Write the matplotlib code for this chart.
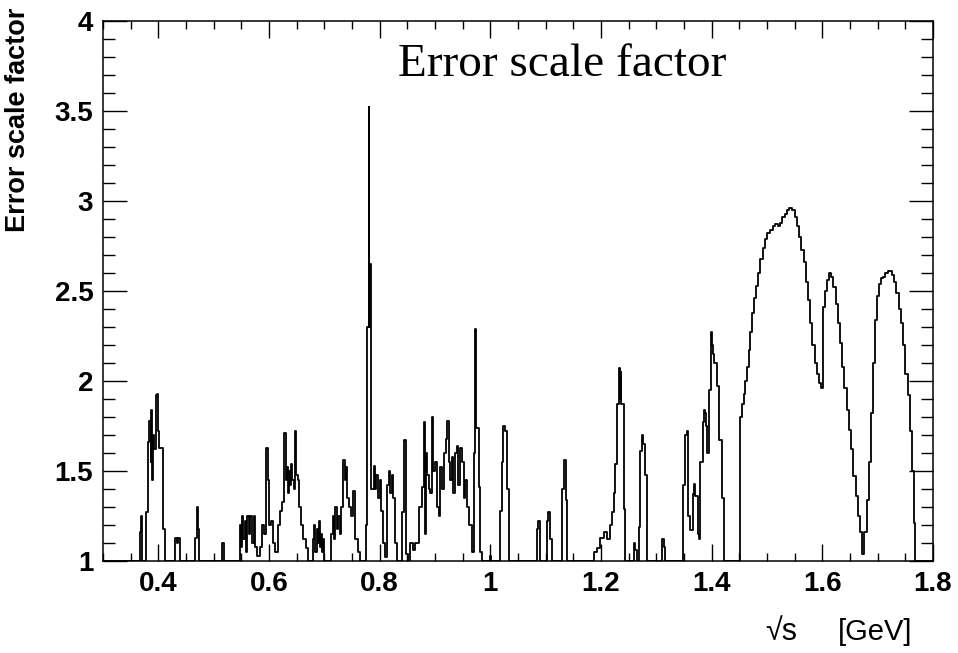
import numpy as np
import matplotlib
matplotlib.use("Agg")
import matplotlib.pyplot as plt
from matplotlib.ticker import MultipleLocator

# Step histogram: each entry is a bin's left edge (GeV) and its content;
# the content holds until the next edge.
lo_x = [0.300, 0.366, 0.369, 0.371, 0.378, 0.381, 0.384, 0.386, 0.387, 0.389,
        0.391, 0.393, 0.395, 0.398, 0.400, 0.402, 0.408, 0.412, 0.430, 0.433,
        0.436, 0.439, 0.466, 0.469, 0.472, 0.474, 0.515, 0.519,
        0.547, 0.549, 0.551, 0.553, 0.556, 0.558, 0.560, 0.563, 0.566, 0.569,
        0.572, 0.575, 0.578, 0.584, 0.588, 0.591, 0.595, 0.598, 0.600, 0.604,
        0.607, 0.611, 0.616, 0.620, 0.624, 0.628, 0.630, 0.632, 0.634, 0.636,
        0.638, 0.640, 0.642, 0.645, 0.647, 0.649, 0.652, 0.655, 0.658, 0.662,
        0.666, 0.670, 0.680, 0.682, 0.684, 0.686, 0.688, 0.690, 0.692, 0.694,
        0.696, 0.698, 0.700]
lo_y = [1.00, 1.16, 1.25, 1.00, 1.27, 1.66, 1.78, 1.55, 1.84, 1.45,
        1.70, 1.62, 1.92, 1.93, 1.72, 1.63, 1.18, 1.00, 1.13, 1.10,
        1.13, 1.00, 1.13, 1.30, 1.18, 1.00, 1.10, 1.00,
        1.20, 1.08, 1.25, 1.12, 1.22, 1.05, 1.25, 1.15, 1.25, 1.10,
        1.25, 1.08, 1.03, 1.08, 1.20, 1.15, 1.63, 1.45, 1.20, 1.22,
        1.10, 1.05, 1.20, 1.28, 1.33, 1.71, 1.45, 1.52, 1.38, 1.50,
        1.42, 1.54, 1.45, 1.40, 1.72, 1.48, 1.45, 1.30, 1.20, 1.12,
        1.07, 1.00, 1.12, 1.20, 1.05, 1.18, 1.10, 1.22, 1.08, 1.15,
        1.05, 1.12, 1.00]

mid_x = [0.712, 0.715, 0.718, 0.720, 0.722, 0.725, 0.728, 0.731, 0.734, 0.737,
         0.739, 0.741, 0.744, 0.748, 0.752, 0.756, 0.760, 0.764,
         0.776, 0.778, 0.780, 0.7815, 0.783, 0.785, 0.789, 0.791, 0.794, 0.797,
         0.800, 0.803, 0.806, 0.809, 0.813, 0.816, 0.819, 0.822, 0.825, 0.828,
         0.832, 0.840, 0.8446, 0.848, 0.852, 0.8555, 0.860, 0.8645, 0.8705,
         0.8765, 0.880, 0.8815, 0.883, 0.8855, 0.8886, 0.8916, 0.894, 0.8965,
         0.900, 0.9036, 0.907, 0.9097, 0.912, 0.9157, 0.919, 0.9217, 0.9247,
         0.9278, 0.9308, 0.933, 0.936, 0.9398, 0.942, 0.9458, 0.9488, 0.952,
         0.9549, 0.958, 0.9609, 0.9669, 0.970, 0.9729, 0.975, 0.979, 0.9819,
         0.985]
mid_y = [1.15, 1.25, 1.12, 1.30, 1.18, 1.25, 1.15, 1.30, 1.56, 1.45,
         1.52, 1.35, 1.30, 1.25, 1.39, 1.12, 1.05, 1.00,
         1.20, 2.30, 3.52, 2.30, 2.65, 1.40, 1.53, 1.40, 1.48, 1.35,
         1.45, 1.28, 1.10, 1.02, 1.42, 1.50, 1.38, 1.48, 1.35, 1.10,
         1.00, 1.27, 1.67, 1.04, 1.00, 1.10, 1.06, 1.10, 1.30,
         1.41, 1.77, 1.15, 1.60, 1.48, 1.40, 1.38, 1.80, 1.50,
         1.55, 1.30, 1.25, 1.52, 1.40, 1.60, 1.68, 1.78, 1.55,
         1.45, 1.58, 1.38, 1.60, 1.64, 1.42, 1.63, 1.55, 1.35,
         1.45, 1.30, 1.20, 1.05, 1.60, 2.29, 1.74, 1.41, 1.05,
         1.00]

hi_x = [0.999, 1.001, 1.018, 1.021, 1.023, 1.027, 1.030, 1.033,
        1.084, 1.087, 1.090, 1.102, 1.105, 1.108, 1.111,
        1.130, 1.133, 1.136, 1.139, 1.187, 1.193, 1.199, 1.205, 1.211,
        1.217, 1.220, 1.223, 1.226, 1.229, 1.232, 1.234, 1.236, 1.237,
        1.241, 1.244, 1.259, 1.262, 1.265, 1.268, 1.271, 1.274, 1.276,
        1.279, 1.283, 1.310, 1.313, 1.316, 1.349, 1.352, 1.355, 1.358,
        1.361, 1.366, 1.368, 1.370, 1.375, 1.377, 1.379, 1.384, 1.387,
        1.388, 1.390, 1.392, 1.395, 1.398, 1.401, 1.402, 1.404, 1.410,
        1.414, 1.419, 1.423]
hi_y = [1.03, 1.00, 1.28, 1.55, 1.75, 1.72, 1.40, 1.00,
        1.18, 1.22, 1.00, 1.22, 1.27, 1.12, 1.00,
        1.40, 1.56, 1.34, 1.00, 1.05, 1.07, 1.13, 1.16, 1.12,
        1.20, 1.27, 1.38, 1.54, 1.87, 2.07, 1.90, 2.05, 1.87,
        1.29, 1.00, 1.10, 1.06, 1.00, 1.19, 1.61, 1.70, 1.65,
        1.48, 1.00, 1.12, 1.08, 1.00, 1.42, 1.70, 1.72, 1.25,
        1.17, 1.37, 1.43, 1.36, 1.15, 1.12, 1.55, 1.77, 1.84,
        1.82, 1.75, 1.60, 1.95, 2.27, 2.20, 2.15, 2.10, 1.97,
        1.67, 1.35, 1.00]

curve_x = [1.451, 1.455, 1.458, 1.461, 1.464, 1.467, 1.470, 1.473, 1.476, 1.480,
           1.484, 1.488, 1.492, 1.496, 1.500, 1.505, 1.510, 1.515, 1.520, 1.524,
           1.528, 1.532, 1.536, 1.540, 1.546, 1.550, 1.554, 1.558, 1.562, 1.566,
           1.570, 1.574, 1.578, 1.582, 1.586, 1.590, 1.594, 1.598, 1.601, 1.605,
           1.609, 1.612, 1.616, 1.620, 1.624, 1.628, 1.632, 1.636, 1.640, 1.644,
           1.648, 1.652, 1.656, 1.660, 1.664, 1.668, 1.672, 1.676, 1.680, 1.684,
           1.688, 1.692, 1.695, 1.698, 1.702, 1.706, 1.710, 1.714, 1.718, 1.722,
           1.726, 1.730, 1.734, 1.738, 1.742, 1.746, 1.750, 1.754, 1.758, 1.762,
           1.765, 1.768, 1.800]
curve_y = [1.80, 1.87, 1.93, 2.00, 2.08, 2.17, 2.27, 2.38, 2.46, 2.53,
           2.60, 2.68, 2.74, 2.79, 2.82, 2.84, 2.86, 2.87, 2.86, 2.88,
           2.91, 2.93, 2.95, 2.96, 2.95, 2.91, 2.86, 2.80, 2.73, 2.66,
           2.55, 2.45, 2.32, 2.20, 2.10, 2.04, 1.99, 1.96, 2.41, 2.50,
           2.56, 2.60, 2.58, 2.52, 2.43, 2.32, 2.21, 2.08, 1.96, 1.84,
           1.73, 1.62, 1.47, 1.36, 1.25, 1.16, 1.04, 1.16, 1.34, 1.55,
           1.82, 2.10, 2.34, 2.47, 2.54, 2.57, 2.58, 2.60, 2.61, 2.61,
           2.59, 2.55, 2.49, 2.40, 2.32, 2.20, 2.04, 1.92, 1.72, 1.50,
           1.21, 1.00, 1.00]

x_edges = np.array(lo_x + mid_x + hi_x + curve_x)
y_vals = np.array(lo_y + mid_y + hi_y + curve_y)

plt.rcParams["font.family"] = ["Liberation Sans", "DejaVu Sans"]

fig = plt.figure(figsize=(9.58, 6.53), dpi=100)
ax = fig.add_axes([103 / 958, 1 - 561 / 653, 830 / 958, 540 / 653])

ax.step(x_edges, y_vals, where="post", color="black", lw=1.3)

ax.set_xlim(0.3, 1.8)
ax.set_ylim(1, 4)
ax.xaxis.set_minor_locator(MultipleLocator(0.05))
ax.yaxis.set_minor_locator(MultipleLocator(0.1))
ax.set_xticks([0.4, 0.6, 0.8, 1.0, 1.2, 1.4, 1.6, 1.8])
ax.set_xticklabels(["0.4", "0.6", "0.8", "1", "1.2", "1.4", "1.6", "1.8"])
ax.set_yticks([1, 1.5, 2, 2.5, 3, 3.5, 4])
ax.set_yticklabels(["1", "1.5", "2", "2.5", "3", "3.5", "4"])

for s in ax.spines.values():
    s.set_linewidth(1.1)
ax.tick_params(axis="both", which="both", direction="in", top=True, right=True,
               width=1.0, labelsize=20)
ax.tick_params(axis="x", which="major", length=12, pad=7)
ax.tick_params(axis="x", which="minor", length=6)
ax.tick_params(axis="y", which="major", length=17, pad=7)
ax.tick_params(axis="y", which="minor", length=8.5)
for lab in ax.get_xticklabels() + ax.get_yticklabels():
    lab.set_fontweight("bold")

# axis titles placed like the ROOT canvas (y title top-aligned, x title right-aligned)
fig.text(18 / 958, 1 - 120 / 653, "Error scale factor", fontsize=19.5,
         fontweight="bold", rotation=90, ha="center", va="center")
fig.text(797 / 958, 1 - 632 / 653, "\u221as", fontsize=22, ha="right", va="center")
fig.text(912 / 958, 1 - 632 / 653, "[GeV]", fontsize=21, ha="right", va="center")

ax.text(0.833, 3.694, "Error scale factor", fontsize=34, ha="left",
        va="baseline", family=["Liberation Serif", "DejaVu Serif"])

fig.savefig("out.png", dpi=100)
